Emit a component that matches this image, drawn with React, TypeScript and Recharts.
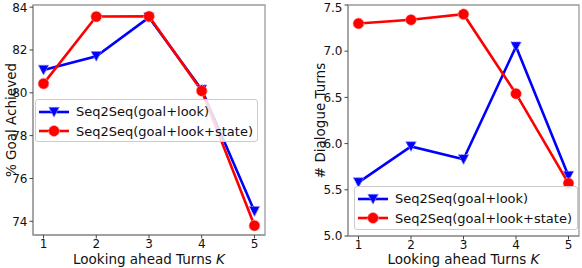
import React from "react";
import {
  LineChart,
  Line,
  XAxis,
  YAxis,
  Legend,
  ReferenceArea,
} from "recharts";

// look-ahead turns K
const turns = [1, 2, 3, 4, 5];

// % goal achieved
const goalLook = [81.07, 81.71, 83.52, 80.15, 74.47];
const goalLookState = [80.43, 83.56, 83.57, 80.09, 73.8];

// # dialogue turns
const dialLook = [5.58, 5.97, 5.83, 7.05, 5.65];
const dialLookState = [7.3, 7.34, 7.4, 6.54, 5.57];

const seriesNames = ["Seq2Seq(goal+look)", "Seq2Seq(goal+look+state)"];
const goalTicks = [74, 76, 78, 80, 82, 84];
const dialTicks = [5.0, 5.5, 6.0, 6.5, 7.0, 7.5];

const FONT = "'DejaVu Sans', sans-serif";
const FRAME = "#9a9a9a";
const BLUE = "#0000ff";
const RED = "#ff0000";

const goalData = turns.map((k, i) => ({ k, a: goalLook[i], b: goalLookState[i] }));
const dialData = turns.map((k, i) => ({ k, a: dialLook[i], b: dialLookState[i] }));

const TriDot = (props: any) => {
  const { cx, cy } = props;
  if (cx == null || cy == null) return null;
  const s = 5.2;
  return (
    <path
      d={`M${cx - s},${cy - s * 0.9} L${cx + s},${cy - s * 0.9} L${cx},${cy + s} Z`}
      fill={BLUE}
      stroke="#8c8cff"
      strokeWidth={1}
      strokeDasharray="1.5 1"
    />
  );
};

const CircleDot = (props: any) => {
  const { cx, cy } = props;
  if (cx == null || cy == null) return null;
  return (
    <circle cx={cx} cy={cy} r={5.4} fill={RED} stroke="#ff9a9a" strokeWidth={1} strokeDasharray="1.5 1" />
  );
};

const LegendBox = () => (
  <div
    style={{
      border: "1px solid #cccccc",
      borderRadius: 3,
      background: "rgba(255,255,255,0.85)",
      boxSizing: "border-box",
      width: "100%",
      height: "100%",
      padding: "2px 0 0 2px",
      fontFamily: FONT,
      fontSize: 13,
      color: "#111",
    }}
  >
    {seriesNames.map((name, i) => (
      <div key={name} style={{ display: "flex", alignItems: "center", height: 19.5 }}>
        <svg width={38} height={16} style={{ flex: "none" }}>
          <line x1={1} y1={8} x2={31} y2={8} stroke={i === 0 ? BLUE : RED} strokeWidth={2.6} />
          {i === 0 ? <TriDot cx={16} cy={8} /> : <CircleDot cx={16} cy={8} />}
        </svg>
        <span style={{ whiteSpace: "nowrap" }}>{name}</span>
      </div>
    ))}
  </div>
);

const yLabel = (text: string, x: number) => (props: any) => {
  const vb = props.viewBox;
  const cy = vb.y + vb.height / 2;
  return (
    <text
      x={x}
      y={cy}
      transform={`rotate(-90, ${x}, ${cy})`}
      textAnchor="middle"
      dominantBaseline="central"
      fontFamily={FONT}
      fontSize={13.5}
      fill="#111"
    >
      {text}
    </text>
  );
};

const xLabel = (props: any) => {
  const vb = props.viewBox;
  const cx = vb.x + vb.width / 2;
  return (
    <text x={cx} y={263.5} textAnchor="middle" fontFamily={FONT} fontSize={13.5} fill="#111">
      Looking ahead Turns <tspan fontStyle="italic">K</tspan>
    </text>
  );
};

const tickStyle = { fontFamily: FONT, fontSize: 12, fill: "#111" };

type PanelProps = {
  data: any[];
  yDomain: [number, number];
  yTicks: number[];
  yFmt: (v: number) => string;
  yAxisWidth: number;
  marginRight: number;
  xAxisHeight: number;
  label: string;
  labelX: number;
  legendPos: { left: number; top: number; width: number; height: number };
};

const Panel = ({ data, yDomain, yTicks, yFmt, yAxisWidth, marginRight, xAxisHeight, label, labelX, legendPos }: PanelProps) => (
  <LineChart width={291} height={268} data={data} margin={{ top: 5, right: marginRight, left: 0, bottom: 0 }}>
    <ReferenceArea
      x1={0.8}
      x2={5.2}
      y1={yDomain[0]}
      y2={yDomain[1]}
      fill="none"
      stroke={FRAME}
      strokeWidth={1.3}
      ifOverflow="visible"
    />
    <XAxis
      dataKey="k"
      type="number"
      domain={[0.8, 5.2]}
      ticks={turns}
      height={xAxisHeight}
      tick={tickStyle}
      tickSize={3.5}
      tickMargin={1}
      tickLine={{ stroke: "#444" }}
      axisLine={{ stroke: FRAME, strokeWidth: 1.3 }}
      label={xLabel}
    />
    <YAxis
      type="number"
      domain={yDomain}
      ticks={yTicks}
      allowDataOverflow
      width={yAxisWidth}
      tick={tickStyle}
      tickFormatter={yFmt}
      tickSize={3.5}
      tickLine={{ stroke: "#444" }}
      axisLine={{ stroke: FRAME, strokeWidth: 1.3 }}
      label={yLabel(label, labelX)}
    />
    <Line
      dataKey="a"
      name={seriesNames[0]}
      stroke={BLUE}
      strokeWidth={2.6}
      dot={<TriDot />}
      activeDot={false}
      isAnimationActive={false}
    />
    <Line
      dataKey="b"
      name={seriesNames[1]}
      stroke={RED}
      strokeWidth={2.6}
      dot={<CircleDot />}
      activeDot={false}
      isAnimationActive={false}
    />
    <Legend
      layout="horizontal"
      verticalAlign="middle"
      align="center"
      content={() => <LegendBox />}
      wrapperStyle={{ ...legendPos }}
    />
  </LineChart>
);

export default function App() {
  return (
    <div style={{ position: "fixed", left: 0, top: 0, width: 582, height: 268, background: "#fff", display: "flex" }}>
      <Panel
        data={goalData}
        yDomain={[73.36, 84.1]}
        yTicks={goalTicks}
        yFmt={(v) => String(v)}
        yAxisWidth={33}
        marginRight={26}
        xAxisHeight={33}
        label="% Goal Achieved"
        labelX={11}
        legendPos={{ left: 35, top: 99, width: 223, height: 43 }}
      />
      <Panel
        data={dialData}
        yDomain={[5.0, 7.5]}
        yTicks={dialTicks}
        yFmt={(v) => v.toFixed(1)}
        yAxisWidth={57}
        marginRight={3}
        xAxisHeight={32}
        label="# Dialogue Turns"
        labelX={29}
        legendPos={{ left: 63, top: 186, width: 224, height: 44 }}
      />
    </div>
  );
}
